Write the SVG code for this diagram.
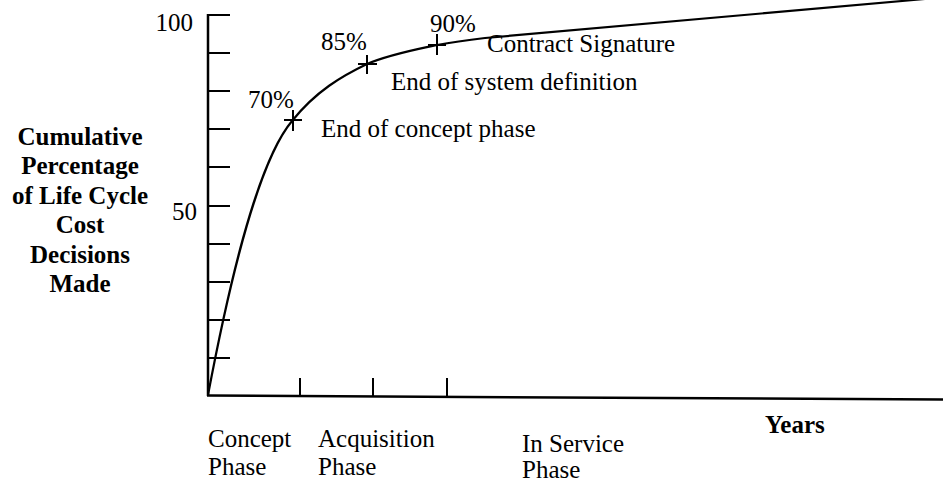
<svg xmlns="http://www.w3.org/2000/svg" width="943" height="483" viewBox="0 0 943 483">
<style>
text{font-family:"Liberation Serif","Times New Roman",serif;font-size:25px;fill:#000}
.b{font-weight:bold}
.ax{stroke:#000;stroke-width:2.5;fill:none}
.tk{stroke:#000;stroke-width:2;fill:none}
.cv{stroke:#000;stroke-width:2.2;fill:none}
</style>
<rect width="943" height="483" fill="#fff"/>
<g id="axes">
<line class="ax" x1="208" y1="14" x2="208" y2="396"/>
<line class="ax" x1="207" y1="395.5" x2="943" y2="399.5"/>
<path class="tk" d="M208,15H230M208,53H230M208,91H230M208,129H230M208,167H230M208,206H230M208,244H230M208,282H230M208,320H230M208,358H230"/>
<path class="tk" d="M300,378V396M373,378V396M447,378V397"/>
</g>
<g id="ylabels">
<text x="193" y="31" text-anchor="end">100</text>
<text x="197" y="220" text-anchor="end">50</text>
</g>
<g id="ytitle" text-anchor="middle">
<text class="b" x="80" y="145">Cumulative</text>
<text class="b" x="80" y="174">Percentage</text>
<text class="b" x="80" y="204">of Life Cycle</text>
<text class="b" x="80" y="233">Cost</text>
<text class="b" x="80" y="263">Decisions</text>
<text class="b" x="80" y="292">Made</text>
</g>
<g id="curve">
<path class="cv" d="M208,395 C226,300 255,165 292,121 C316,91 342,76 367,64 C391,54 414,50 437,45 C454,42 469,40 485,38 L925,-1"/>
</g>
<g id="m70">
<path class="tk" d="M284,120H302M293,110V131"/>
<text x="248" y="108">70%</text>
<text x="321" y="137">End of concept phase</text>
</g>
<g id="m85">
<path class="tk" d="M358,64H377M367,55V74"/>
<text x="321" y="50">85%</text>
<text x="391" y="90">End of system definition</text>
</g>
<g id="m90">
<path class="tk" d="M428,45H446M437,34V55"/>
<text x="430" y="32">90%</text>
<text x="487" y="52">Contract Signature</text>
</g>
<g id="xlabels">
<text x="208" y="447">Concept</text>
<text x="208" y="475">Phase</text>
<text x="318" y="447">Acquisition</text>
<text x="318" y="475">Phase</text>
<text x="522" y="452">In Service</text>
<text x="522" y="478">Phase</text>
<text class="b" x="765" y="433">Years</text>
</g>
</svg>
